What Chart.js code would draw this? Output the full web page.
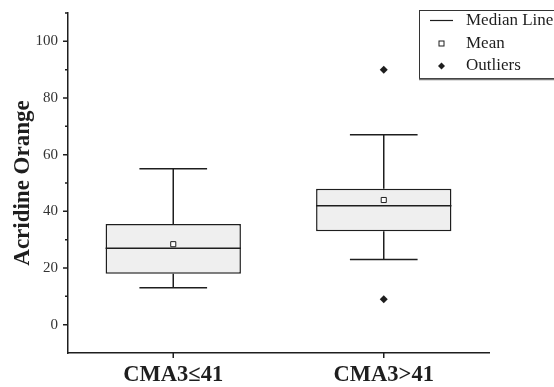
<!DOCTYPE html>
<html>
<head>
<meta charset="utf-8">
<script src="https://cdn.jsdelivr.net/npm/chart.js@4/dist/chart.umd.min.js"></script>
<style>
  html, body { margin: 0; padding: 0; background: #fff; }
  #wrap { width: 554px; height: 387px; position: relative; }
</style>
</head>
<body>
<div id="wrap"><canvas id="c"></canvas></div>
<script>
// Groups and box-plot statistics
const categories = ['CMA3\u226441', 'CMA3>41'];
const q1Values = [18, 33];
const q3Values = [35.5, 48];
const medianValues = [27, 42];
const meanValues = [28.4, 44];
const whiskerLow = [13, 23];
const whiskerHigh = [55, 67];
const outlierValues = [[], [90, 9]];
const legendLabels = ['Median Line', 'Mean', 'Outliers'];

const INK = '#1e1e1e';
const SERIF = "'Liberation Serif', 'Times New Roman', serif";

const outlierPoints = [];
outlierValues.forEach((vals, i) => vals.forEach(v => outlierPoints.push({ x: categories[i], y: v })));

// Whiskers, caps and median lines drawn over the box bars
const boxExtras = {
  id: 'boxExtras',
  afterDatasetsDraw(chart) {
    const { ctx, scales: { x, y } } = chart;
    const bars = chart.getDatasetMeta(0).data;
    ctx.save();
    ctx.strokeStyle = INK;
    ctx.lineWidth = 1.5;
    bars.forEach((bar, i) => {
      const cx = x.getPixelForValue(i);
      const half = bar.width / 2;
      const capHalf = half / 2;
      const yq1 = y.getPixelForValue(q1Values[i]);
      const yq3 = y.getPixelForValue(q3Values[i]);
      const ylo = y.getPixelForValue(whiskerLow[i]);
      const yhi = y.getPixelForValue(whiskerHigh[i]);
      const ymed = y.getPixelForValue(medianValues[i]);
      ctx.beginPath();
      ctx.moveTo(cx, yq3); ctx.lineTo(cx, yhi);
      ctx.moveTo(cx - capHalf, yhi); ctx.lineTo(cx + capHalf, yhi);
      ctx.moveTo(cx, yq1); ctx.lineTo(cx, ylo);
      ctx.moveTo(cx - capHalf, ylo); ctx.lineTo(cx + capHalf, ylo);
      ctx.moveTo(cx - half, ymed); ctx.lineTo(cx + half, ymed);
      ctx.stroke();
    });
    ctx.restore();
  }
};

// Outward axis tick marks: long at labelled values, short between them
const axisTicks = {
  id: 'axisTicks',
  afterDraw(chart) {
    const { ctx, scales: { x, y }, chartArea } = chart;
    ctx.save();
    ctx.strokeStyle = INK;
    ctx.lineWidth = 1.5;
    ctx.beginPath();
    y.ticks.forEach(t => {
      if (t.value <= y.min) return;
      const py = y.getPixelForValue(t.value);
      const len = (t.value % 20 === 0) ? 5 : 3;
      ctx.moveTo(chartArea.left, py); ctx.lineTo(chartArea.left - len, py);
    });
    categories.forEach((c, i) => {
      const px = x.getPixelForValue(i);
      ctx.moveTo(px, chartArea.bottom); ctx.lineTo(px, chartArea.bottom + 5);
    });
    ctx.stroke();
    ctx.restore();
  }
};

// Framed key in the upper right
const boxLegend = {
  id: 'boxLegend',
  afterDraw(chart) {
    const { ctx } = chart;
    const left = 419, top = 10, right = 560, bottom = 78;
    ctx.save();
    ctx.fillStyle = '#fff';
    ctx.fillRect(left, top, right - left, bottom - top);
    ctx.strokeStyle = '#333';
    ctx.lineWidth = 1;
    ctx.strokeRect(left + 0.5, top + 0.5, right - left, bottom - top);
    ctx.strokeStyle = '#777';
    ctx.lineWidth = 1.5;
    ctx.beginPath(); ctx.moveTo(left, bottom + 1.5); ctx.lineTo(right, bottom + 1.5); ctx.stroke();

    const rows = [20.5, 43.5, 66];
    const sx = 441.5;
    // median line sample
    ctx.strokeStyle = INK; ctx.lineWidth = 1.2;
    ctx.beginPath(); ctx.moveTo(430, rows[0]); ctx.lineTo(453, rows[0]); ctx.stroke();
    // mean sample
    ctx.fillStyle = '#fff'; ctx.lineWidth = 1;
    ctx.fillRect(sx - 2.5, rows[1] - 2.5, 5, 5);
    ctx.strokeRect(sx - 2.5, rows[1] - 2.5, 5, 5);
    // outlier sample
    ctx.fillStyle = INK;
    ctx.beginPath();
    ctx.moveTo(sx, rows[2] - 3.5); ctx.lineTo(sx + 3.5, rows[2]);
    ctx.lineTo(sx, rows[2] + 3.5); ctx.lineTo(sx - 3.5, rows[2]);
    ctx.closePath(); ctx.fill();

    ctx.fillStyle = INK;
    ctx.font = '17px ' + SERIF;
    ctx.textBaseline = 'middle';
    ctx.textAlign = 'left';
    legendLabels.forEach((t, i) => ctx.fillText(t, 466, rows[i]));
    ctx.restore();
  }
};

new Chart(document.getElementById('c'), {
  type: 'bar',
  data: {
    labels: categories,
    datasets: [
      {
        label: 'Box',
        data: q1Values.map((v, i) => [v, q3Values[i]]),
        backgroundColor: '#efefef',
        borderColor: INK,
        borderWidth: 1.5,
        borderSkipped: false,
        categoryPercentage: 1,
        barPercentage: 0.643,
        order: 3
      },
      {
        type: 'line',
        label: 'Mean',
        data: meanValues,
        showLine: false,
        pointStyle: 'rect',
        pointRadius: 3.6,
        pointBackgroundColor: '#fff',
        pointBorderColor: INK,
        pointBorderWidth: 1,
        order: 1
      },
      {
        type: 'line',
        label: 'Outliers',
        data: outlierPoints,
        showLine: false,
        pointStyle: 'rectRot',
        pointRadius: 4,
        pointBackgroundColor: INK,
        pointBorderColor: INK,
        pointBorderWidth: 0,
        order: 1
      }
    ]
  },
  options: {
    responsive: true,
    maintainAspectRatio: false,
    animation: false,
    layout: { padding: { top: 13, right: 65, left: 0, bottom: 0 } },
    plugins: { legend: { display: false }, tooltip: { enabled: false } },
    scales: {
      x: {
        offset: true,
        grid: { display: false, drawTicks: false },
        border: { display: true, color: INK, width: 1.5 },
        ticks: {
          color: INK,
          padding: 9,
          font: { family: SERIF, size: 22.5, weight: 'bold' }
        },
        afterFit(scale) { scale.height = 34; scale.paddingLeft = 0; scale.paddingRight = 0; }
      },
      y: {
        min: -10,
        max: 110,
        grid: { display: false, drawTicks: false },
        border: { display: true, color: INK, width: 1.5 },
        ticks: {
          stepSize: 10,
          color: '#333',
          padding: 10,
          font: { family: SERIF, size: 15 },
          callback: v => (v % 20 === 0 && v >= 0 && v <= 100) ? String(v) : ''
        },
        title: {
          display: true,
          text: 'Acridine Orange',
          color: INK,
          padding: { top: 9, bottom: 0 },
          font: { family: SERIF, size: 23, weight: 'bold' }
        },
        afterFit(scale) { scale.width = 68; scale.paddingTop = 0; scale.paddingBottom = 0; }
      }
    }
  },
  plugins: [boxExtras, axisTicks, boxLegend]
});
</script>
</body>
</html>
